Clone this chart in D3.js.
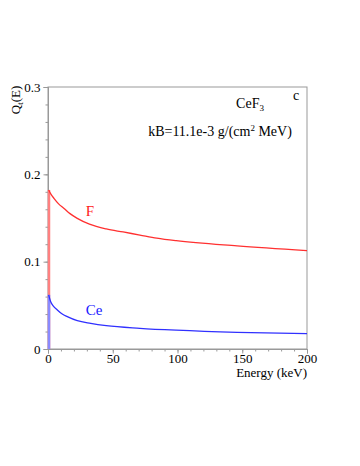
<!DOCTYPE html>
<html><head><meta charset="utf-8">
<script src="https://cdn.jsdelivr.net/npm/d3@7"></script>
<style>body{margin:0;background:#fff}svg text{font-family:"Liberation Serif","Times New Roman",serif !important}</style>
</head><body><svg id="c" width="360" height="466"></svg>
<script>
const energyF = [0.5, 2, 4.6, 8, 12.4, 17, 22.6, 32, 45, 58, 71, 84, 99, 146, 200];
const qF =      [0.182, 0.178, 0.1725, 0.1665, 0.161, 0.155, 0.1496, 0.143, 0.1375, 0.134, 0.1305, 0.127, 0.124, 0.118, 0.1127];
const energyCe = [0.5, 2, 4, 7.2, 11, 14.9, 22.6, 33, 45, 71, 99, 146, 200];
const qCe =      [0.062, 0.0545, 0.0495, 0.0447, 0.040, 0.037, 0.0324, 0.0293, 0.0267, 0.0237, 0.0215, 0.019, 0.0175];
const xTicks = [0, 50, 100, 150, 200];
const yTicks = [0, 0.1, 0.2, 0.3];

const svg = d3.select("#c");
const L = 48, R = 307, T = 87, B = 349;
const x = d3.scaleLinear().domain([0, 200]).range([L, R]);
const y = d3.scaleLinear().domain([0, 0.3]).range([B, T]);
const axCol = "#999";
const serif = '"Liberation Serif","Times New Roman",serif';

svg.append("rect").attr("x", L).attr("y", T).attr("width", R - L).attr("height", B - T)
  .attr("fill", "none").attr("stroke", axCol).attr("stroke-width", 1);

const gx = svg.append("g").attr("transform", `translate(0,${B})`)
  .call(d3.axisBottom(x).tickValues(d3.range(0, 201, 10)).tickSize(2.5).tickFormat(""));
const gx2 = svg.append("g").attr("transform", `translate(0,${B})`)
  .call(d3.axisBottom(x).tickValues(xTicks).tickSize(4.5).tickPadding(0).tickFormat(d3.format("d")));
const gy = svg.append("g").attr("transform", `translate(${L},0)`)
  .call(d3.axisLeft(y).tickValues(d3.range(0, 0.301, 0.02)).tickSize(2.5).tickFormat(""));
const gy2 = svg.append("g").attr("transform", `translate(${L},0)`)
  .call(d3.axisLeft(y).tickValues(yTicks).tickSize(4.5).tickPadding(3).tickFormat(d => d === 0 ? "0" : d3.format(".1f")(d)));
[gx, gx2, gy, gy2].forEach(g => {
  g.attr("font-family", serif).attr("font-size", 13);
  g.select(".domain").attr("stroke", axCol);
  g.selectAll(".tick line").attr("stroke", axCol);
  g.selectAll("text").attr("fill", "#000").style("font-size", "13px");
});

svg.append("line").attr("x1", x(0) + 1).attr("x2", x(0) + 1).attr("y1", y(0)).attr("y2", y(qF[0]))
  .attr("stroke", "#ff8080").attr("stroke-width", 2.5);
svg.append("line").attr("x1", x(0) + 1).attr("x2", x(0) + 1).attr("y1", y(0)).attr("y2", y(qCe[0]))
  .attr("stroke", "#8a8aff").attr("stroke-width", 2.5);

const line = d3.line().curve(d3.curveMonotoneX);
svg.append("path").attr("d", line(energyF.map((e, i) => [x(e), y(qF[i])])))
  .attr("fill", "none").attr("stroke", "#ff3030").attr("stroke-width", 1.3);
svg.append("path").attr("d", line(energyCe.map((e, i) => [x(e), y(qCe[i])])))
  .attr("fill", "none").attr("stroke", "#3030ff").attr("stroke-width", 1.3);

svg.append("text").attr("x", 90).attr("y", 216).attr("text-anchor", "middle").attr("fill", "#ff2020").style("font-size", "15px").text("F");
svg.append("text").attr("x", 94).attr("y", 315).attr("text-anchor", "middle").attr("fill", "#2020ff").style("font-size", "15px").text("Ce");

const t1 = svg.append("text").attr("x", 250).attr("y", 108).attr("text-anchor", "middle").style("font-size", "14px");
t1.append("tspan").text("CeF");
t1.append("tspan").attr("dy", 3).style("font-size", "9px").text("3");
svg.append("text").attr("x", 296).attr("y", 100).attr("text-anchor", "middle").style("font-size", "14px").text("c");
const t2 = svg.append("text").attr("x", 220).attr("y", 136).attr("text-anchor", "middle").style("font-size", "14px");
t2.append("tspan").text("kB=11.1e-3 g/(cm");
t2.append("tspan").attr("dy", -5).style("font-size", "9px").text("2");
t2.append("tspan").attr("dy", 5).text(" MeV)");

svg.append("text").attr("x", R).attr("y", 377).attr("text-anchor", "end").style("font-size", "13px").text("Energy (keV)");

const yl = svg.append("text").attr("transform", "translate(20,100) rotate(-90)").attr("text-anchor", "middle").style("font-size", "13px");
yl.append("tspan").text("Q");
yl.append("tspan").attr("dy", 3).style("font-size", "9px").text("t");
yl.append("tspan").attr("dy", -3).text("(E)");
</script></body></html>
